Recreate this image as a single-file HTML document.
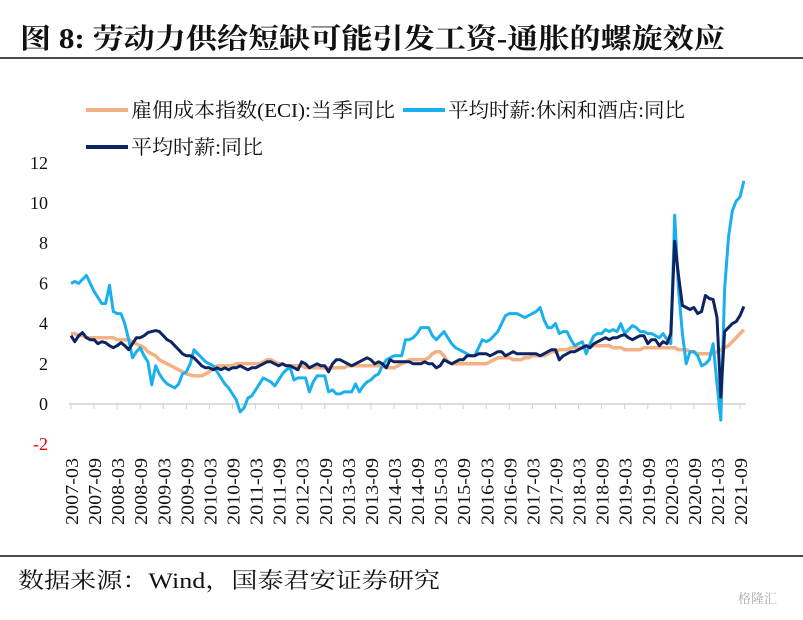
<!DOCTYPE html>
<html><head><meta charset="utf-8">
<style>
body{margin:0;background:#fff;width:803px;height:615px;overflow:hidden;font-family:"Liberation Serif","Noto Serif CJK SC",serif}
svg text{font-family:"Liberation Serif","Noto Serif CJK SC",serif}
</style></head>
<body>
<svg id="chart" width="803" height="615" viewBox="0 0 803 615" xmlns="http://www.w3.org/2000/svg">
<text x="20" y="48" font-size="28" font-weight="bold" fill="#111" textLength="705" lengthAdjust="spacingAndGlyphs">图 8:  劳动力供给短缺可能引发工资-通胀的螺旋效应</text>
<line x1="0" y1="58" x2="803" y2="58" stroke="#111" stroke-width="1.5"/>
<g>
<line x1="86" y1="110" x2="128" y2="110" stroke="#F4B183" stroke-width="4"/>
<text x="131" y="117" font-size="20" fill="#111" textLength="264" lengthAdjust="spacingAndGlyphs">雇佣成本指数(ECI):当季同比</text>
<line x1="403" y1="110" x2="445" y2="110" stroke="#1AB0EC" stroke-width="4"/>
<text x="448" y="117" font-size="20" fill="#111" textLength="237" lengthAdjust="spacingAndGlyphs">平均时薪:休闲和酒店:同比</text>
<line x1="86" y1="147" x2="128" y2="147" stroke="#0C2461" stroke-width="4"/>
<text x="131" y="154" font-size="20" fill="#111" textLength="132" lengthAdjust="spacingAndGlyphs">平均时薪:同比</text>
</g>
<g id="yaxis"></g>
<g id="xaxis"></g>
<g id="series"></g>
<line x1="0" y1="556" x2="803" y2="556" stroke="#111" stroke-width="1.5"/>
<text x="18" y="588" font-size="22" fill="#111" textLength="422" lengthAdjust="spacingAndGlyphs">数据来源：Wind，国泰君安证券研究</text>
<text x="738" y="603" font-size="13" fill="#aaa" font-family="Liberation Sans, Noto Sans CJK SC, sans-serif">格隆汇</text>
</svg>
<script>
const yTicks=[-2,0,2,4,6,8,10,12];
const startYear=2007, startMonth=3;
const eci=[3.5,3.5,3.4,3.4,3.3,3.3,3.3,3.3,3.3,3.3,3.3,
3.3,3.2,3.2,3.2,3.2,3.1,3.0,2.9,2.8,2.6,2.5,
2.4,2.2,2.1,2.0,1.9,1.8,1.7,1.6,1.5,1.45,1.4,
1.4,1.4,1.5,1.6,1.8,1.9,1.9,1.9,1.9,1.9,2.0,
2.0,2.0,2.0,2.0,2.0,2.0,2.1,2.2,2.2,2.1,2.0,
2.0,1.9,1.9,1.9,1.9,1.9,1.8,1.8,1.8,1.8,1.8,
1.8,1.8,1.8,1.8,1.8,1.8,1.9,1.9,1.9,1.9,1.9,
1.9,1.9,1.9,1.9,1.9,1.8,1.8,1.8,1.9,2.0,2.1,
2.2,2.2,2.2,2.2,2.2,2.3,2.5,2.6,2.6,2.4,2.1,
2.0,2.0,2.0,2.0,2.0,2.0,2.0,2.0,2.0,2.0,2.1,
2.2,2.3,2.3,2.3,2.3,2.2,2.2,2.2,2.3,2.3,2.4,
2.4,2.4,2.4,2.5,2.6,2.6,2.7,2.7,2.7,2.8,2.8,
2.8,2.8,2.9,2.9,2.9,2.9,2.9,2.9,2.9,2.8,2.8,
2.8,2.7,2.7,2.7,2.7,2.7,2.8,2.8,2.8,2.8,2.8,
2.8,2.8,2.8,2.8,2.7,2.7,2.7,2.6,2.6,2.5,2.5,
2.5,2.5,2.5,2.6,2.7,2.8,2.9,3.1,3.3,3.5,3.7];
const leisure=[6.0,6.1,6.0,6.2,6.4,
6.0,5.6,5.3,5.0,5.0,5.9,4.6,
4.5,4.5,4.0,3.2,2.3,2.6,2.8,2.4,2.1,
0.95,1.9,1.5,1.2,1.0,0.9,0.8,1.0,1.5,1.6,2.0,
2.7,2.5,2.3,2.1,2.0,1.9,1.6,1.3,1.0,0.8,0.5,0.2,-0.4,
-0.2,0.3,0.4,0.7,1.0,1.3,1.2,1.1,0.9,1.2,1.5,1.7,
1.8,1.2,1.3,1.3,1.3,0.6,1.1,1.4,1.4,1.4,0.6,0.7,
0.5,0.5,0.6,0.6,0.6,1.0,0.6,0.9,1.1,1.2,1.4,1.5,
1.9,2.2,2.3,2.4,2.4,2.4,3.2,3.2,3.3,3.5,
3.8,3.8,3.8,3.4,3.2,3.4,3.6,3.3,3.0,2.8,2.7,
2.6,2.5,2.4,2.4,2.8,3.2,3.1,3.2,3.4,3.6,4.0,
4.4,4.5,4.5,4.5,4.4,4.3,4.4,4.5,4.6,4.8,4.2,
3.8,3.8,4.0,3.5,3.6,3.6,3.2,2.9,3.0,3.1,2.5,3.0,
3.4,3.5,3.5,3.7,3.6,3.7,3.6,4.0,3.5,3.7,3.9,3.8,
3.6,3.6,3.5,3.5,3.4,3.3,3.5,3.2,3.0,
9.4,5.7,3.5,2.0,2.6,2.6,2.4,1.9,2.0,2.2,3.0,1.0,-0.8,5.7,8.3,9.6,10.1,10.3,11.1];
const ahe=[3.4,3.1,3.4,3.55,3.3,3.2,3.2,3.0,3.1,3.05,2.9,
2.8,2.9,3.05,2.9,2.7,3.0,3.3,3.3,3.4,3.55,3.6,
3.65,3.6,3.4,3.2,3.1,2.9,2.7,2.5,2.4,2.4,2.3,
2.1,1.9,1.8,1.8,1.7,1.8,1.7,1.8,1.7,1.8,1.8,
1.9,1.8,1.7,1.8,1.8,1.9,2.0,2.1,2.1,2.0,1.9,
2.0,1.9,1.9,1.8,1.7,2.1,2.0,1.8,1.9,2.0,1.9,
1.9,1.6,2.0,2.2,2.2,2.1,2.0,1.9,2.0,2.1,2.2,
2.3,2.2,2.0,2.1,2.0,1.8,2.2,2.1,2.1,2.1,2.1,
2.1,2.0,2.0,2.0,2.1,2.0,2.0,1.8,1.9,2.2,2.1,
2.0,2.1,2.2,2.2,2.4,2.4,2.4,2.5,2.5,2.5,2.4,
2.5,2.6,2.6,2.4,2.5,2.6,2.5,2.5,2.5,2.5,2.5,
2.5,2.4,2.5,2.6,2.7,2.7,2.2,2.4,2.5,2.6,2.6,
2.7,2.8,2.9,2.8,3.0,3.1,3.2,3.3,3.2,3.3,3.3,
3.4,3.45,3.3,3.2,3.3,3.4,3.4,3.0,3.2,3.2,2.9,
3.1,3.0,3.5,8.1,6.4,4.9,4.8,4.7,4.8,4.5,4.6,
5.4,5.25,5.2,4.3,0.35,3.6,3.8,4.0,4.1,4.4,4.85];

const NS='http://www.w3.org/2000/svg';
const x0=71, pxPerMonth=3.845, yZero=404, pxPerUnit=20.1;
const xScale=m=>x0+m*pxPerMonth;
const yScale=v=>yZero-v*pxPerUnit;
function mk(tag,attrs,parent){const e=document.createElementNS(NS,tag);for(const k in attrs)e.setAttribute(k,attrs[k]);parent.appendChild(e);return e;}

const ya=document.getElementById('yaxis');
yTicks.forEach(t=>{
  const tx=mk('text',{x:48,y:yScale(t)+6,'text-anchor':'end','font-size':18,fill:t<0?'#e00':'#111'},ya);
  tx.textContent=String(t);
  
  
});

const xa=document.getElementById('xaxis');
const nMonths=leisure.length;
const axLine=mk('line',{x1:x0-2,y1:yZero,x2:xScale(nMonths-1)+2,y2:yZero,stroke:'#d0d0d0','stroke-width':1.5},xa);


for(let m=0;m<nMonths;m+=6){
  const x=xScale(m);
  const tk=mk('line',{x1:x,y1:yZero,x2:x,y2:yZero+5,stroke:'#d0d0d0','stroke-width':1},xa);
  
  
  const mm=startMonth-1+m, yr=startYear+Math.floor(mm/12), mo=mm%12+1;
  const lab=yr+'-'+(mo<10?'0':'')+mo;
  const tx=mk('text',{x:0,y:0,'text-anchor':'end','font-size':18,fill:'#111',textLength:67,lengthAdjust:'spacingAndGlyphs',transform:`translate(${x+7},458) rotate(-90)`},xa);
  tx.textContent=lab;
  
  
}

const sg=document.getElementById('series');
function line(arr,color,w,name){
  const d=arr.map((v,i)=>(i?'L':'M')+xScale(i).toFixed(1)+' '+yScale(v).toFixed(1)).join(' ');
  const p=mk('path',{d:d,fill:'none',stroke:color,'stroke-width':w,'stroke-linejoin':'round'},sg);
  
  
}
line(eci,'#F4B183',3.5,'eci-line');
line(leisure,'#1AB0EC',3,'leisure-wage-line');
line(ahe,'#0C2461',3,'avg-hourly-wage-line');
</script>
</body></html>
